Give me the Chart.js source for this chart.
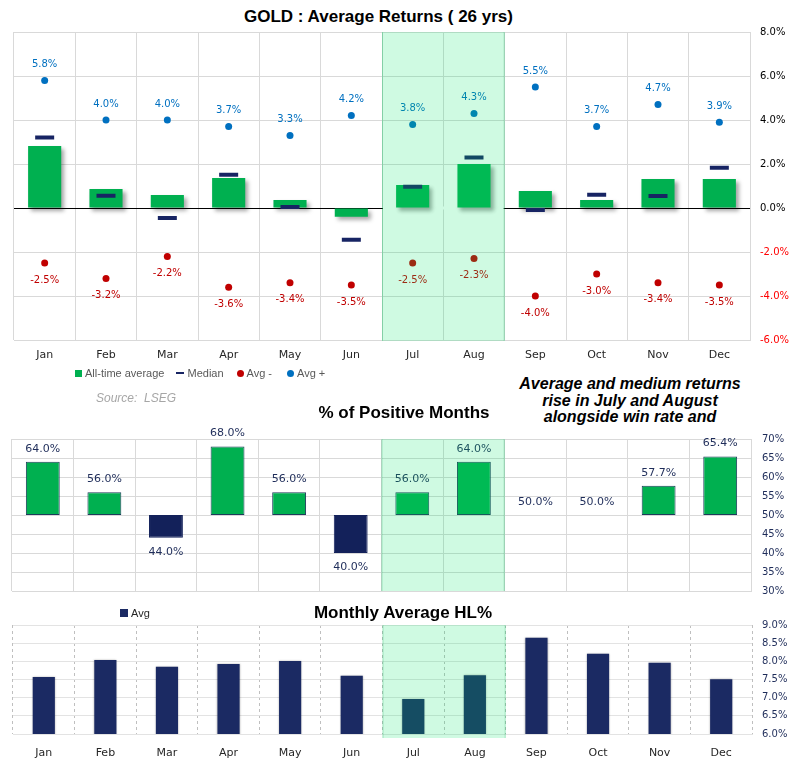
<!DOCTYPE html>
<html>
<head>
<meta charset="utf-8">
<script src="https://cdn.jsdelivr.net/npm/chart.js@4.4.1/dist/chart.umd.min.js"></script>
<style>
  body { margin: 0; width: 805px; height: 771px; background: #fff; position: relative; overflow: hidden; font-family: "Liberation Sans", Arial, sans-serif; }
  .box { position: absolute; left: 0; width: 805px; }
  .ttl { position: absolute; font-weight: bold; font-size: 17px; line-height: 20px; color: #000; text-align: center; white-space: nowrap; }
  .leg { position: absolute; font-size: 11px; line-height: 14px; color: #595959; white-space: nowrap; display: flex; align-items: center; }
  .leg i { display: inline-block; margin-right: 3px; }
  .sq { width: 7px; height: 7px; }
  .dash { width: 8px; height: 2px; background: #172463; }
  .dot { width: 7px; height: 7px; border-radius: 50%; }
  .nota { position: absolute; left: 500px; width: 260px; top: 376px; text-align: center; font-weight: bold; font-style: italic; font-size: 16px; line-height: 16.5px; color: #000; }
  .fonte { position: absolute; left: 96px; top: 391px; font-style: italic; font-size: 12px; color: #a6a6a6; }
</style>
</head>
<body>

<div class="ttl" style="left:0;width:757px;top:7px">GOLD : Average Returns ( 26 yrs)</div>
<div class="box" style="top:0;height:370px"><canvas id="retornos"></canvas></div>

<div class="leg" style="left:75px;top:366px">
  <i class="sq" style="background:#00B050"></i><span style="margin-right:12px">All-time average</span>
  <i class="dash"></i><span style="margin-right:13px">Median</span>
  <i class="dot" style="background:#C00000"></i><span style="margin-right:15px">Avg -</span>
  <i class="dot" style="background:#0070C0"></i><span>Avg +</span>
</div>
<div class="fonte">Source:&nbsp; LSEG</div>
<div class="nota">Average and medium returns<br>rise in July and August<br>alongside win rate and</div>

<div class="ttl" style="left:0;width:808px;top:403px">% of Positive Months</div>
<div class="box" style="top:420px;height:188px"><canvas id="positivos"></canvas></div>

<div class="box" style="top:600px;height:171px"><canvas id="amplitude"></canvas></div>
<div class="leg" style="left:120px;top:606px;color:#262626">
  <i class="sq" style="background:#1b2a63;width:8px;height:8px"></i><span>Avg</span>
</div>
<div class="ttl" style="left:0;width:806px;top:603px">Monthly Average HL%</div>

<script>
// dados
const meses = ["Jan", "Feb", "Mar", "Apr", "May", "Jun", "Jul", "Aug", "Sep", "Oct", "Nov", "Dec"];
const mediaGeral = [2.82, 0.86, 0.59, 1.36, 0.36, -0.40, 1.05, 2.00, 0.77, 0.36, 1.32, 1.32];
const mediana = [3.20, 0.56, -0.45, 1.51, 0.05, -1.44, 0.97, 2.29, -0.09, 0.60, 0.55, 1.83];
const mediaPositiva = [5.8, 4.0, 4.0, 3.7, 3.3, 4.2, 3.8, 4.3, 5.5, 3.7, 4.7, 3.9];
const mediaNegativa = [-2.5, -3.2, -2.2, -3.6, -3.4, -3.5, -2.5, -2.3, -4.0, -3.0, -3.4, -3.5];
const mesesPositivos = [64.0, 56.0, 44.0, 68.0, 56.0, 40.0, 56.0, 64.0, 50.0, 50.0, 57.7, 65.4];
const amplitudeMedia = [7.57, 8.04, 7.85, 7.93, 8.01, 7.60, 6.96, 7.62, 8.65, 8.21, 7.96, 7.51];
const mesesDestaque = [6, 8]; // Jul..Aug

Chart.defaults.font.family = '"DejaVu Sans", Verdana, sans-serif';
Chart.defaults.animation = false;
Chart.defaults.events = [];
Chart.defaults.plugins.legend.display = false;
Chart.defaults.plugins.tooltip.enabled = false;
Chart.defaults.maintainAspectRatio = false;

// faixa verde de julho/agosto, desenhada por cima de tudo
function faixaVerde(extra, apagaZero) {
  const limites = (chart) => {
    const a = chart.chartArea;
    const w = (a.right - a.left) / chart.data.labels.length;
    return [a.left + w * mesesDestaque[0], a.left + w * mesesDestaque[1]];
  };
  return {
    id: "faixaVerde",
    beforeDatasetsDraw(chart) {
      // no original a linha do zero não aparece dentro da faixa
      if (!apagaZero) return;
      const [x0, x1] = limites(chart);
      const y0 = Math.round(chart.scales.y.getPixelForValue(0));
      const ctx = chart.ctx;
      ctx.save();
      ctx.fillStyle = "#ffffff";
      ctx.fillRect(x0 + 1, y0 - 1.5, x1 - x0 - 2, 3);
      ctx.restore();
    },
    afterDraw(chart) {
      const ctx = chart.ctx;
      const a = chart.chartArea;
      const [x0, x1] = limites(chart);
      ctx.save();
      ctx.fillStyle = "rgba(0,230,100,0.19)";
      ctx.fillRect(x0, a.top, x1 - x0, a.bottom - a.top + extra);
      ctx.strokeStyle = "rgba(0,170,80,0.25)";
      ctx.lineWidth = 1;
      ctx.beginPath();
      ctx.moveTo(x0 + 0.5, a.top);
      ctx.lineTo(x0 + 0.5, a.bottom + extra);
      ctx.moveTo(x1 - 0.5, a.top);
      ctx.lineTo(x1 - 0.5, a.bottom + extra);
      ctx.stroke();
      ctx.restore();
    }
  };
}

function sombra(cor, blur, dx, dy) {
  return {
    id: "sombra",
    beforeDatasetDraw(chart, args) {
      if (args.meta.type !== "bar") return;
      const ctx = chart.ctx;
      ctx.shadowColor = cor;
      ctx.shadowBlur = blur;
      ctx.shadowOffsetX = dx;
      ctx.shadowOffsetY = dy;
    },
    afterDatasetDraw(chart) {
      const ctx = chart.ctx;
      ctx.shadowColor = "rgba(0,0,0,0)";
      ctx.shadowBlur = 0;
      ctx.shadowOffsetX = 0;
      ctx.shadowOffsetY = 0;
    }
  };
}

const rotulosRetorno = {
  id: "rotulosRetorno",
  afterDatasetsDraw(chart) {
    const ctx = chart.ctx;
    ctx.save();
    ctx.font = '10px "DejaVu Sans"';
    ctx.textAlign = "center";
    ctx.textBaseline = "middle";
    [[0, -16, "#0070C0"], [1, 17, "#C00000"]].forEach(([i, dy, cor]) => {
      const valores = chart.data.datasets[i].data;
      chart.getDatasetMeta(i).data.forEach((pt, k) => {
        ctx.fillStyle = cor;
        ctx.fillText(valores[k].toFixed(1) + "%", pt.x, pt.y + dy);
      });
    });
    ctx.restore();
  }
};

const rotulosPositivos = {
  id: "rotulosPositivos",
  afterDatasetsDraw(chart) {
    const ctx = chart.ctx;
    const y = chart.scales.y;
    ctx.save();
    ctx.font = '11px "DejaVu Sans"';
    ctx.fillStyle = "#1f2d5a";
    ctx.textAlign = "center";
    ctx.textBaseline = "middle";
    chart.getDatasetMeta(0).data.forEach((barra, i) => {
      const v = mesesPositivos[i];
      const yy = v >= 50 ? y.getPixelForValue(v) - 13 : y.getPixelForValue(v) + 14;
      ctx.fillText(v.toFixed(1) + "%", barra.x, yy);
    });
    ctx.restore();
  }
};

function criarGraficoRetornos() {
  const config = {
    type: "bar",
    data: {
      labels: meses,
      datasets: [
        {
          type: "line",
          label: "Avg +",
          data: mediaPositiva,
          showLine: false,
          pointRadius: 3.5,
          pointBorderWidth: 0,
          backgroundColor: "#0070C0",
          borderColor: "#0070C0",
          order: 1,
        },
        {
          type: "line",
          label: "Avg -",
          data: mediaNegativa,
          showLine: false,
          pointRadius: 3.5,
          pointBorderWidth: 0,
          backgroundColor: "#C00000",
          borderColor: "#C00000",
          order: 1,
        },
        {
          type: "line",
          label: "Median",
          data: mediana,
          showLine: false,
          pointStyle: "line",
          pointRadius: 9.5,
          pointBorderWidth: 4,
          borderColor: "#172463",
          backgroundColor: "#172463",
          order: 2,
        },
        {
          label: "All-time average",
          data: mediaGeral,
          backgroundColor: "#00B050",
          borderWidth: 0,
          barPercentage: 0.54,
          categoryPercentage: 1,
          order: 3,
        },
      ],
    },
    options: {
      layout: { padding: { top: 32, left: 14, right: 0, bottom: 0 } },
      scales: {
        x: {
          grid: { color: "#d9d9d9", drawTicks: false },
          border: { color: "#d9d9d9" },
          ticks: { color: "#262626", font: { size: 11 }, padding: 9 },
          afterFit: (s) => { s.height = 30; },
        },
        y: {
          position: "right",
          min: -6,
          max: 8,
          ticks: {
            stepSize: 2,
            padding: 10,
            font: { size: 10 },
            color: (c) => (c.tick.value < 0 ? "#ff0000" : "#000000"),
            callback: (v) => v.toFixed(1) + "%",
          },
          grid: {
            drawTicks: false,
            color: (c) => (c.tick.value === 0 ? "#000000" : "#d9d9d9"),
          },
          border: { color: "#d9d9d9" },
          afterFit: (s) => { s.width = 55; },
        },
      },
    },
    plugins: [sombra("rgba(0,0,0,0.35)", 4, 3, 3), rotulosRetorno, faixaVerde(1, true)],
  };
  new Chart(document.getElementById("retornos"), config);
}

function criarGraficoPositivos() {
  const config = {
    type: "bar",
    data: {
      labels: meses,
      datasets: [
        {
          label: "% of Positive Months",
          data: mesesPositivos.map((v) => [50, v]),
          backgroundColor: mesesPositivos.map((v) => (v >= 50 ? "#00B050" : "#13215a")),
          borderColor: mesesPositivos.map((v) => (v >= 50 ? "#1d3b5a" : "#13215a")),
          borderWidth: mesesPositivos.map((v) => (v === 50 ? 0 : 1)),
          borderSkipped: false,
          barPercentage: 0.55,
          categoryPercentage: 1,
        },
      ],
    },
    options: {
      layout: { padding: { top: 19, left: 12, right: 0, bottom: 0 } },
      scales: {
        x: {
          ticks: { display: false },
          grid: { color: "#d9d9d9", drawTicks: false },
          border: { color: "#d9d9d9" },
          afterFit: (s) => { s.height = 0; },
        },
        y: {
          position: "right",
          min: 30,
          max: 70,
          ticks: {
            stepSize: 5,
            padding: 11,
            font: { size: 10 },
            color: "#1f2d5a",
            callback: (v) => v + "%",
          },
          grid: { color: "#d9d9d9", drawTicks: false },
          border: { color: "#d9d9d9" },
          afterFit: (s) => { s.width = 54; },
        },
      },
    },
    plugins: [rotulosPositivos, faixaVerde(0, false)],
  };
  new Chart(document.getElementById("positivos"), config);
}

function criarGraficoAmplitude() {
  const config = {
    type: "bar",
    data: {
      labels: meses,
      datasets: [
        {
          label: "Avg",
          data: amplitudeMedia,
          backgroundColor: "#1b2a63",
          borderWidth: 0,
          barPercentage: 0.36,
          categoryPercentage: 1,
        },
      ],
    },
    options: {
      layout: { padding: { top: 25, left: 13, right: 0, bottom: 0 } },
      scales: {
        x: {
          grid: { color: "#bfbfbf", drawTicks: false },
          border: { color: "#e3e3e3", dash: [3, 3] },
          ticks: { color: "#262626", font: { size: 11 }, padding: 13 },
          afterFit: (s) => { s.height = 37; },
        },
        y: {
          position: "right",
          min: 6,
          max: 9,
          ticks: {
            stepSize: 0.5,
            padding: 10,
            font: { size: 10 },
            color: "#1f2d5a",
            callback: (v) => v.toFixed(1) + "%",
          },
          grid: { color: "#e3e3e3", drawTicks: false },
          border: { display: false },
          afterFit: (s) => { s.width = 53; },
        },
      },
    },
    plugins: [sombra("rgba(0,0,0,0.3)", 2, 0, 0), faixaVerde(4, false)],
  };
  new Chart(document.getElementById("amplitude"), config);
}

criarGraficoRetornos();
criarGraficoPositivos();
criarGraficoAmplitude();
</script>
</body>
</html>
